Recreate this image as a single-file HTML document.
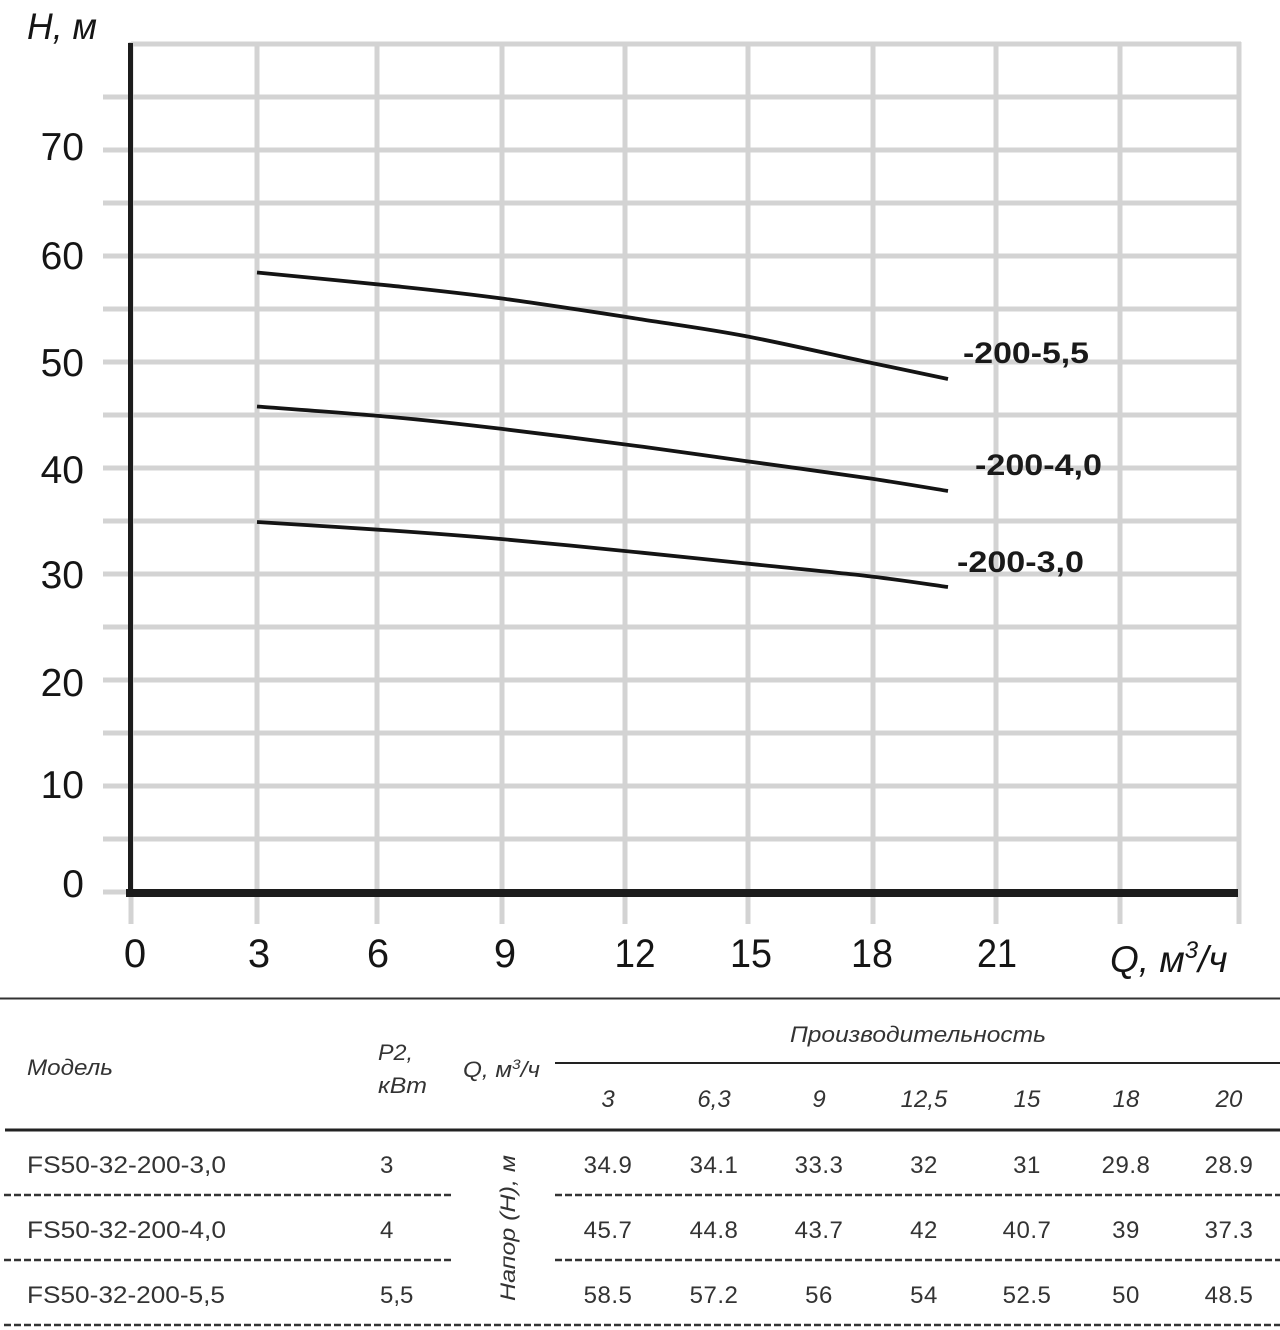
<!DOCTYPE html>
<html>
<head>
<meta charset="utf-8">
<style>
html,body{margin:0;padding:0;background:#fff;}
svg{display:block;}
text{font-family:"Liberation Sans","DejaVu Sans",sans-serif;}
</style>
</head>
<body>
<svg width="1280" height="1330" viewBox="0 0 1280 1330" xmlns="http://www.w3.org/2000/svg">
<rect x="0" y="0" width="1280" height="1330" fill="#fff"/>

<!-- horizontal gridlines -->
<g stroke="#d3d3d3" stroke-width="5">
<line x1="131" y1="44" x2="1241" y2="44"/>
<line x1="103" y1="97" x2="1241" y2="97"/>
<line x1="103" y1="150" x2="1241" y2="150"/>
<line x1="103" y1="203" x2="1241" y2="203"/>
<line x1="103" y1="256" x2="1241" y2="256"/>
<line x1="103" y1="309" x2="1241" y2="309"/>
<line x1="103" y1="362" x2="1241" y2="362"/>
<line x1="103" y1="415" x2="1241" y2="415"/>
<line x1="103" y1="468" x2="1241" y2="468"/>
<line x1="103" y1="521" x2="1241" y2="521"/>
<line x1="103" y1="574" x2="1241" y2="574"/>
<line x1="103" y1="627" x2="1241" y2="627"/>
<line x1="103" y1="680" x2="1241" y2="680"/>
<line x1="103" y1="733" x2="1241" y2="733"/>
<line x1="103" y1="786" x2="1241" y2="786"/>
<line x1="103" y1="839" x2="1241" y2="839"/>
<line x1="103" y1="892" x2="1241" y2="892"/>
</g>
<!-- vertical gridlines -->
<g stroke="#d3d3d3" stroke-width="5">
<line x1="131" y1="42" x2="131" y2="924"/>
<line x1="257" y1="42" x2="257" y2="924"/>
<line x1="377" y1="42" x2="377" y2="924"/>
<line x1="502" y1="42" x2="502" y2="924"/>
<line x1="625" y1="42" x2="625" y2="924"/>
<line x1="748" y1="42" x2="748" y2="924"/>
<line x1="873" y1="42" x2="873" y2="924"/>
<line x1="996" y1="42" x2="996" y2="924"/>
<line x1="1120" y1="42" x2="1120" y2="924"/>
<line x1="1239" y1="42" x2="1239" y2="924"/>
</g>

<!-- axes -->
<rect x="128" y="43" width="5" height="852" fill="#1c1c1c"/>
<rect x="126" y="889" width="1112" height="8" fill="#1c1c1c"/>

<!-- curves -->
<g fill="none" stroke="#141414" stroke-width="3.8" stroke-linejoin="round" stroke-linecap="butt">
<path d="M257,272.5 C279.3,274.7 350.3,281.4 391,285.7 C431.7,290 459,292.75 501,298.4 C543,304.05 602.3,313.3 643,319.6 C683.7,325.9 707.7,328.9 745,336 C782.3,343.1 833.2,354.8 867,362 C900.8,369.2 934.5,376.2 948,379"/>
<path d="M257,406.5 C279.3,408.25 350.3,413.3 391,417 C431.7,420.7 459,423.8 501,428.8 C543,433.8 602.3,441.4 643,446.8 C683.7,452.2 707.7,455.8 745,461 C782.3,466.2 833.2,473 867,478 C900.8,483 934.5,488.8 948,491"/>
<path d="M257,522 C279.3,523.4 350.3,527.7 391,530.5 C431.7,533.3 459,535.3 501,539 C543,542.7 602.3,548.7 643,552.8 C683.7,556.9 707.7,559.5 745,563.4 C782.3,567.3 833.2,572.1 867,576 C900.8,579.9 934.5,585.2 948,587"/>
</g>

<!-- curve labels -->
<g fill="#1a1a1a" font-size="30" font-weight="bold">
<text x="963" y="363" textLength="126" lengthAdjust="spacingAndGlyphs">-200-5,5</text>
<text x="975" y="475" textLength="127" lengthAdjust="spacingAndGlyphs">-200-4,0</text>
<text x="957" y="572" textLength="127" lengthAdjust="spacingAndGlyphs">-200-3,0</text>
</g>

<!-- y labels -->
<g fill="#151515" font-size="39" text-anchor="end">
<text x="84" y="160">70</text>
<text x="84" y="269">60</text>
<text x="84" y="376">50</text>
<text x="84" y="483">40</text>
<text x="84" y="588">30</text>
<text x="84" y="696">20</text>
<text x="84" y="798">10</text>
<text x="84" y="897">0</text>
</g>
<text x="27" y="39" fill="#151515" font-size="37" font-style="italic" textLength="70" lengthAdjust="spacingAndGlyphs">H, м</text>

<!-- x labels -->
<g fill="#151515" font-size="40" text-anchor="middle">
<text x="135" y="967">0</text>
<text x="259" y="967">3</text>
<text x="378" y="967">6</text>
<text x="505" y="967">9</text>
<text x="635" y="967" textLength="41" lengthAdjust="spacingAndGlyphs">12</text>
<text x="751" y="967" textLength="42" lengthAdjust="spacingAndGlyphs">15</text>
<text x="872" y="967" textLength="42" lengthAdjust="spacingAndGlyphs">18</text>
<text x="997" y="967" textLength="40" lengthAdjust="spacingAndGlyphs">21</text>
</g>
<text x="1110" y="972" fill="#151515" font-size="37" font-style="italic">Q, м<tspan font-size="24" dy="-14">3</tspan><tspan dy="14">/ч</tspan></text>

<!-- table -->
<line x1="0" y1="998.5" x2="1280" y2="998.5" stroke="#333" stroke-width="2"/>
<g fill="#333" font-style="italic" font-size="22">
<text x="27" y="1075" textLength="86" lengthAdjust="spacingAndGlyphs">Модель</text>
<text x="378" y="1060" textLength="35" lengthAdjust="spacingAndGlyphs">P2,</text>
<text x="378" y="1093" textLength="49" lengthAdjust="spacingAndGlyphs">кВт</text>
<text x="463" y="1077" font-size="22" textLength="77" lengthAdjust="spacingAndGlyphs">Q, м<tspan font-size="14" dy="-8">3</tspan><tspan dy="8">/ч</tspan></text>
<text x="790" y="1042" textLength="256" lengthAdjust="spacingAndGlyphs">Производительность</text>
</g>
<line x1="555" y1="1063" x2="1280" y2="1063" stroke="#222" stroke-width="2"/>
<g fill="#333" font-style="italic" font-size="24" text-anchor="middle">
<text x="608" y="1107">3</text>
<text x="714" y="1107">6,3</text>
<text x="819" y="1107">9</text>
<text x="924" y="1107">12,5</text>
<text x="1027" y="1107">15</text>
<text x="1126" y="1107">18</text>
<text x="1229" y="1107">20</text>
</g>
<line x1="5" y1="1130" x2="1280" y2="1130" stroke="#222" stroke-width="3"/>

<g fill="#333" font-size="24">
<text x="27" y="1173" textLength="199" lengthAdjust="spacingAndGlyphs">FS50-32-200-3,0</text>
<text x="27" y="1238" textLength="199" lengthAdjust="spacingAndGlyphs">FS50-32-200-4,0</text>
<text x="27" y="1303" textLength="198" lengthAdjust="spacingAndGlyphs">FS50-32-200-5,5</text>
<text x="380" y="1173">3</text>
<text x="380" y="1238">4</text>
<text x="380" y="1303">5,5</text>
</g>
<text transform="translate(515,1301) rotate(-90)" fill="#333" font-size="21" font-style="italic" textLength="146" lengthAdjust="spacingAndGlyphs">Напор (Н), м</text>

<g fill="#333" font-size="24" text-anchor="middle" letter-spacing="0.5">
<text x="608" y="1173">34.9</text>
<text x="714" y="1173">34.1</text>
<text x="819" y="1173">33.3</text>
<text x="924" y="1173">32</text>
<text x="1027" y="1173">31</text>
<text x="1126" y="1173">29.8</text>
<text x="1229" y="1173">28.9</text>

<text x="608" y="1238">45.7</text>
<text x="714" y="1238">44.8</text>
<text x="819" y="1238">43.7</text>
<text x="924" y="1238">42</text>
<text x="1027" y="1238">40.7</text>
<text x="1126" y="1238">39</text>
<text x="1229" y="1238">37.3</text>

<text x="608" y="1303">58.5</text>
<text x="714" y="1303">57.2</text>
<text x="819" y="1303">56</text>
<text x="924" y="1303">54</text>
<text x="1027" y="1303">52.5</text>
<text x="1126" y="1303">50</text>
<text x="1229" y="1303">48.5</text>
</g>

<g stroke="#333" stroke-width="2.5" stroke-dasharray="7 3">
<line x1="4" y1="1195" x2="452" y2="1195"/>
<line x1="555" y1="1195" x2="1280" y2="1195"/>
<line x1="4" y1="1260" x2="452" y2="1260"/>
<line x1="555" y1="1260" x2="1280" y2="1260"/>
<line x1="4" y1="1325" x2="1280" y2="1325"/>
</g>
</svg>
</body>
</html>
